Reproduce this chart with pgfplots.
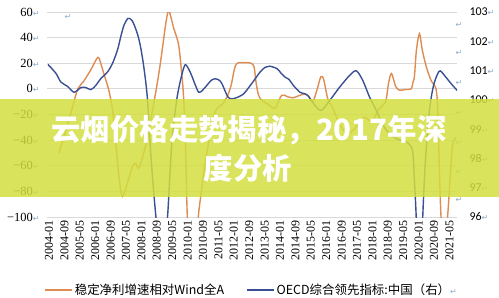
\documentclass[border=0pt]{standalone}
\usepackage{pgfplots}
\pgfplotsset{compat=1.18}
\usepackage{fontspec}
\setmainfont{Liberation Serif}
\newfontfamily\cjk{Noto Sans CJK SC}
\newfontfamily\calfont{Carlito}
\newfontfamily\djv{DejaVu Sans}
\definecolor{orangeL}{RGB}{222,140,82}
\definecolor{blueL}{RGB}{58,80,148}
\definecolor{gridc}{RGB}{217,217,217}
\definecolor{retc}{RGB}{140,170,205}
\definecolor{bannerc}{RGB}{210,222,63}
\newcommand{\ret}{{\djv\fontsize{8}{8}\selectfont\textcolor{retc}{↵}}}

\begin{document}
\begin{tikzpicture}[x=1bp,y=1bp]
\path[use as bounding box] (-47,-80) rectangle (452,217);
\begin{axis}[
  at={(0,0)}, anchor=south west,
  scale only axis, width=410bp, height=205bp,
  xmin=0, xmax=213, ymin=-100, ymax=60,
  axis line style={draw=none}, tick style={draw=none},
  ytick={-100,-80,...,60},
  yticklabels={{−100\ret},{−80\ret},{−60\ret},{−40\ret},{−20\ret},{0\ret},{20\ret},{40\ret},{60\ret}},
  yticklabel style={font=\fontsize{12.5}{13}\selectfont, xshift=-4bp},
  ymajorgrids, grid style={gridc, line width=0.8bp},
  xtick={0,8,...,208},
  xticklabels={2004-01,2004-09,2005-05,2006-01,2006-09,2007-05,2008-01,2008-09,2009-05,2010-01,2010-09,2011-05,2012-01,2012-09,2013-05,2014-01,2014-09,2015-05,2016-01,2016-09,2017-05,2018-01,2018-09,2019-05,2020-01,2020-09,2021-05},
  xticklabel style={rotate=90, anchor=east, font=\fontsize{12}{12}\selectfont, yshift=-2bp},
  legend style={draw=none, fill=none, at={(0.499,-0.356)}, anchor=center,
    font=\cjk\fontsize{12.5}{12.5}\selectfont, legend columns=2,
    /tikz/every even column/.append style={column sep=20bp}},
  legend cell align=left,
  legend image code/.code={\draw[#1, line width=1.5bp] (0bp,0bp) -- (27bp,0bp);},
]
\addplot[orangeL, line width=1.4bp, smooth, tension=0.5] coordinates {
(6.2,-50) (8.3,-40) (10.3,-30) (13.5,-13) (16.0,0) (19.1,6) (22.8,15) (26.4,24.6) (27.9,20) (29.5,12) (32.1,-1) (34.1,-17) (35.7,-42) (37.5,-70) (39.2,-84) (41.7,-74) (44.3,-61) (46.0,-58) (47.6,-62) (49.5,-54) (52.1,-39) (54.8,-17) (57.9,10) (60.0,32) (61.6,50) (63.0,61) (64.2,57) (65.7,48) (68.3,35) (69.8,15) (70.9,-5) (71.9,-40) (72.9,-100) (74.5,-135) (76.1,-140) (77.6,-130) (78.6,-100) (80.2,-80) (81.7,-62) (83.3,-48) (84.8,-35) (86.4,-22) (88.5,-15) (91.1,-12) (93.6,-6) (95.7,3) (97.3,15) (98.8,20) (103.0,20.5) (106.1,20) (107.6,17) (108.6,5) (109.9,-5) (111.7,-9) (114.8,-12) (118.5,-15) (121.9,-5) (124.7,-6) (127.8,-7) (131.4,-5) (134.0,-4) (136.1,-6) (138.1,-10) (140.2,-1) (142.3,9.5) (143.8,7) (145.9,-8) (148.5,-15) (152.1,-28) (156.2,-35) (160.4,-30) (164.5,-22) (168.7,-25) (172.8,-15) (175.9,-10) (177.5,5) (179.0,12) (181.1,2) (183.1,-1) (186.2,-0.5) (189.2,0) (190.1,5) (190.9,10) (191.9,30) (193.5,43) (195.0,30) (197.1,17) (199.7,6) (202.1,0) (203.0,-17) (203.8,-60) (204.7,-100) (206.4,-130) (208.1,-100) (209.0,-80) (210.6,-45) (212.5,-38)
};
\addlegendentry{稳定净利增速相对Wind全A}
\addlegendimage{blueL}
\addlegendentry{OECD综合领先指标:中国（右）\ret}
\end{axis}
\begin{axis}[
  at={(0,0)}, anchor=south west,
  scale only axis, width=410bp, height=205bp,
  xmin=0, xmax=213, ymin=96, ymax=103,
  axis line style={draw=none}, tick style={draw=none},
  axis y line*=right, axis x line=none,
  ytick={96,97,...,103},
  yticklabels={{96\ret},{97\ret},{98\ret},{99\ret},{100\ret},{101\ret},{102\ret},{103\ret}},
  yticklabel style={font=\calfont\fontsize{12}{12}\selectfont, anchor=west, xshift=9bp},
]
\addplot[blueL, line width=1.4bp, smooth, tension=0.5] coordinates {
(0.5,101.21) (4.7,100.90) (7.2,100.61) (10.7,100.46) (14.1,100.26) (17.6,100.42) (20.2,100.42) (22.8,100.35) (25.3,100.49) (27.9,100.72) (31.4,100.95) (34.0,101.24) (36.6,101.70) (38.3,102.15) (40.0,102.55) (42.1,102.78) (44.3,102.70) (46.9,102.27) (48.6,101.81) (50.3,101.12) (52.1,100.09) (53.8,98.26) (55.4,96.89) (56.6,96.0) (57.9,95.3) (59.5,95.0) (61.0,95.3) (62.6,96.0) (63.9,97.5) (65.2,98.8) (67.6,100.09) (70.2,100.9) (71.9,101.2) (74.0,101.0) (75.5,100.77) (77.1,100.5) (78.8,100.26) (80.7,100.32) (83.1,100.5) (85.4,100.67) (87.4,100.72) (89.5,100.67) (90.9,100.55) (92.6,100.29) (94.2,100.08) (96.2,100.03) (97.8,100.06) (101.9,100.19) (106.4,100.56) (110.7,100.95) (113.3,101.11) (115.5,101.15) (119.4,101.07) (121.6,100.91) (123.6,100.78) (125.7,100.70) (127.9,100.5) (131.4,100.26) (134.0,100.21) (135.5,100.15) (137.1,100.0) (140.0,99.75) (142.6,99.64) (146.9,99.98) (152.1,100.44) (157.3,100.84) (160.7,100.99) (164.0,100.67) (167.6,100.09) (171.1,99.64) (173.8,99.23) (176.9,98.92) (180.6,98.71) (184.2,98.61) (187.3,98.54) (189.9,98.26) (190.9,97.23) (191.8,96.0) (193.0,93.5) (194.0,93.5) (195.2,96.0) (196.6,97.92) (198.7,99.64) (200.7,100.46) (202.8,100.87) (204.3,100.99) (206.9,100.80) (210.0,100.55) (213.1,100.32)
};
\end{axis}
\node at (21,200) {\ret};
\foreach \yy in {192,164,134,104,74,45,17} {\node at (412,\yy) {\ret};}
\fill[bannerc, opacity=0.85] (-47,20) rectangle (452,118);
\node[text=white, font=\cjk\bfseries\fontsize{29.5}{30}\selectfont, inner sep=0pt] at (202,87) {云烟价格走势揭秘，2017年深};
\node[text=white, font=\cjk\bfseries\fontsize{29.5}{30}\selectfont, inner sep=0pt] at (201,49) {度分析};
\end{tikzpicture}
\end{document}
